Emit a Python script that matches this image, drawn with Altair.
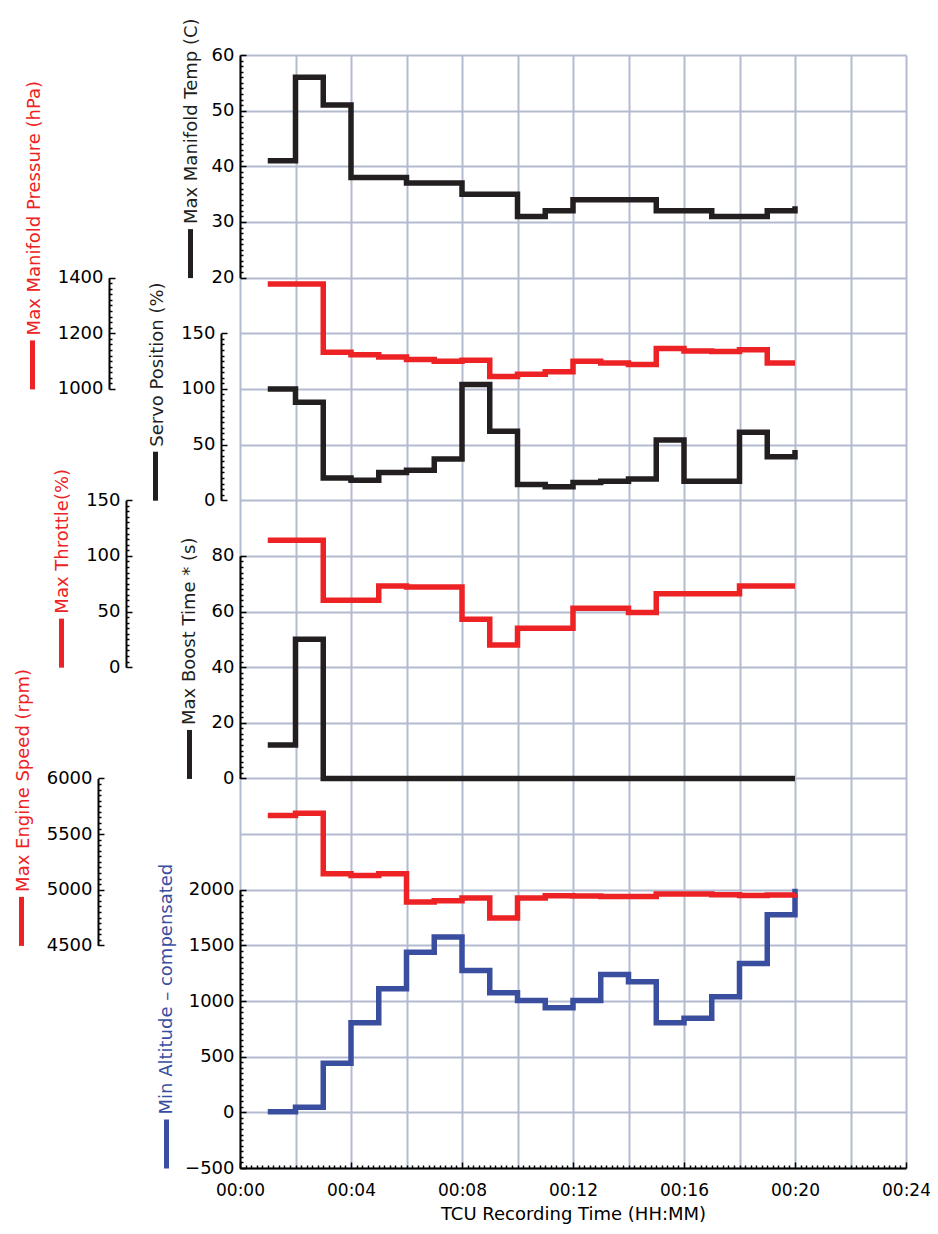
import altair as alt
import pandas as pd

# ---------------- data ----------------
time_s = [60, 120, 180, 240, 300, 360, 420, 480, 540, 600,
          660, 720, 780, 840, 900, 960, 1020, 1080, 1140, 1200]
manifold_temp = [41, 56, 51, 38, 38, 37, 37, 35, 35, 31,
                 32, 34, 34, 34, 32, 32, 31, 31, 32, 32.8]
manifold_pressure = [1377, 1377, 1132, 1123, 1115, 1106, 1099, 1103, 1045, 1053,
                     1062, 1099, 1093, 1088, 1145, 1136, 1134, 1141, 1093, 1093]
servo_position = [100, 88, 20, 18, 25, 27, 37, 104, 62, 14,
                  12, 16, 17, 19, 54, 17, 17, 61, 39, 45]
throttle = [114, 114, 60, 60, 73, 72, 72, 43, 20, 35,
            35, 53, 53, 49, 66, 66, 66, 73, 73, 73]
boost_time = [12, 50, 0, 0, 0, 0, 0, 0, 0, 0,
              0, 0, 0, 0, 0, 0, 0, 0, 0, 0]
engine_speed = [5666, 5687, 5143, 5128, 5143, 4890, 4901, 4925, 4746, 4925,
                4946, 4943, 4940, 4940, 4961, 4961, 4955, 4949, 4952, 4964]
min_altitude = [5, 45, 442, 806, 1110, 1439, 1576, 1275, 1075, 1006,
                940, 1006, 1239, 1173, 806, 845, 1039, 1337, 1776, 2010]

df = pd.DataFrame({
    "t": time_s,
    "temp": manifold_temp,
    "pressure": manifold_pressure,
    "servo": servo_position,
    "throttle": throttle,
    "boost": boost_time,
    "engine": engine_speed,
    "alt": min_altitude,
})

# ---------------- layout ----------------
W, H = 666, 1113
LEFT = 240           # page x of the plot's left edge
ROW = H / 20.0
FONT = "DejaVu Sans"
BLACK = "#231f20"
RED = "#ed2224"
BLUE = "#3a4ea0"
GRID = "#b4bbcf"
BAR_LEN = 49
TITLE_SIZE = 18
LABEL_SIZE = 18


def r(k):
    return k * ROW


def xscale():
    return alt.Scale(domain=[0, 1440], nice=False, zero=False)


def yaxis(lo, hi, step, major, axis_x, title, color, title_x, bottom):
    return alt.Axis(
        orient="right",
        offset=-(W + LEFT - axis_x),
        values=list(range(lo, hi + 1, step)),
        format="d",
        tickSize={"condition": {"test": f"datum.value % {major} === 0", "value": 6}, "value": 3},
        tickColor="black",
        tickWidth=1.5,
        domainColor="black",
        domainWidth=2,
        labelExpr=f"datum.value % {major} === 0 ? datum.label : ''",
        labelAlign="right",
        labelBaseline="middle",
        labelPadding=-12,
        labelOverlap=False,
        labelFlush=False,
        labelBound=False,
        labelFont=FONT,
        labelFontSize=LABEL_SIZE,
        labelColor="black",
        grid=False,
        title=title,
        titleColor=color,
        titleFont=FONT,
        titleFontSize=TITLE_SIZE,
        titleFontWeight="normal",
        titleAngle=270,
        titleAlign="left",
        titleBaseline="middle",
        titleX=title_x,
        titleY=bottom - BAR_LEN - 5,
        titleLimit=1000,
        zindex=1,
    )


def line_layer(field, color, dom, rng, axis):
    return alt.Chart(df).mark_line(
        interpolate="step-after", strokeWidth=5.5, color=color,
        strokeJoin="miter", strokeCap="butt",
    ).encode(
        x=alt.X("t:Q", scale=xscale(), axis=None),
        y=alt.Y(f"{field}:Q",
                scale=alt.Scale(domain=dom, range=rng, nice=False, zero=False),
                axis=axis),
    )


def key_bar(color, bottom, center_x):
    # the coloured key bar beside each axis title, drawn as an axis domain line
    return alt.Chart(df).mark_point(opacity=0).encode(
        x=alt.X("t:Q", scale=xscale(), axis=None),
        y=alt.YDatum(
            datum=0, type="quantitative",
            scale=alt.Scale(domain=[0, 1], range=[bottom, bottom - BAR_LEN],
                            nice=False, zero=False),
            axis=alt.Axis(orient="right", offset=-(W + LEFT - center_x),
                          domain=True, domainColor=color, domainWidth=5,
                          ticks=False, labels=False, grid=False, title=None,
                          zindex=1)),
    )


# grid layer
grid_layer = alt.Chart(df).mark_point(opacity=0).encode(
    x=alt.X("t:Q", scale=xscale(), axis=alt.Axis(
        values=list(range(0, 1441, 120)), grid=True, gridColor=GRID, gridWidth=2,
        ticks=False, labels=False, domain=False, title=None, zindex=0)),
    y=alt.YDatum(datum=0, type="quantitative",
                 scale=alt.Scale(domain=[0, 20], range=[0, H], nice=False, zero=False),
                 axis=alt.Axis(values=list(range(0, 21)), grid=True, gridColor=GRID,
                               gridWidth=2, ticks=False, labels=False, domain=False,
                               title=None, zindex=0)),
)

# time axis layer (ticks pointing into the plot, labels below)
xaxis_layer = alt.Chart(df).mark_point(opacity=0).encode(
    x=alt.X("t:Q", scale=xscale(), axis=alt.Axis(
        orient="top", offset=-H,
        values=list(range(0, 1441, 12)),
        tickSize={"condition": {"test": "datum.value % 240 === 0", "value": 6}, "value": 3},
        tickColor="black", tickWidth=1.5,
        domainColor="black", domainWidth=2,
        labelExpr="datum.value % 240 === 0 ? '00:' + (datum.value < 600 ? '0' : '') + (datum.value / 60) : ''",
        labelAlign="center", labelBaseline="top", labelPadding=-20,
        labelOverlap=False, labelFlush=False, labelBound=False,
        labelFont=FONT, labelFontSize=17, labelColor="black",
        grid=False,
        title="TCU Recording Time (HH:MM)", titleColor="black", titleFont=FONT,
        titleFontSize=TITLE_SIZE, titleFontWeight="normal", titleAngle=0,
        titleAlign="center", titleBaseline="middle", titleX=W / 2, titleY=46,
        zindex=1)),
    y=alt.YDatum(datum=0, type="quantitative", axis=None),
)

temp_l = line_layer("temp", BLACK, [20, 60], [r(4), r(0)],
                    yaxis(20, 60, 1, 10, LEFT, "Max Manifold Temp (C)", BLACK, -49, r(4)))
servo_l = line_layer("servo", BLACK, [0, 150], [r(8), r(5)],
                     yaxis(0, 150, 5, 50, 221, "Servo Position (%)", BLACK, -64, r(8)))
boost_l = line_layer("boost", BLACK, [0, 80], [r(13), r(9)],
                     yaxis(0, 80, 2, 20, LEFT, "Max Boost Time * (s)", BLACK, -51, r(13)))
alt_l = line_layer("alt", BLUE, [-500, 2000], [r(20), r(15)],
                   yaxis(-500, 2000, 50, 500, LEFT, "Min Altitude \u2013 compensated", BLUE, -74, r(20)))
press_l = line_layer("pressure", RED, [1000, 1400], [r(6), r(4)],
                     yaxis(1000, 1400, 20, 200, 109, "Max Manifold Pressure (hPa)", RED, -75, r(6)))
thr_l = line_layer("throttle", RED, [0, 150], [r(11), r(8)],
                   yaxis(0, 150, 5, 50, 126, "Max Throttle(%)", RED, -64, r(11)))
eng_l = line_layer("engine", RED, [4500, 6000], [r(16), r(13)],
                   yaxis(4500, 6000, 50, 500, 98, "Max Engine Speed (rpm)", RED, -75, r(16)))

bars = [
    key_bar(BLACK, r(4), 190),
    key_bar(RED, r(6), 32),
    key_bar(BLACK, r(8), 155),
    key_bar(RED, r(11), 61),
    key_bar(BLACK, r(13), 189),
    key_bar(RED, r(16), 21),
    key_bar(BLUE, r(20), 166),
]

chart = alt.layer(
    grid_layer, xaxis_layer, temp_l, servo_l, boost_l, alt_l, press_l, thr_l, eng_l,
    *bars
).resolve_scale(
    x="independent", y="independent"
).properties(
    width=W, height=H,
    padding={"left": LEFT - 8, "top": 47, "right": 24, "bottom": 56},
    autosize=alt.AutoSizeParams(type="none"),
    background="white",
).configure_view(stroke=None)

chart.save("out.html", embed_options={"renderer": "svg", "actions": False})
